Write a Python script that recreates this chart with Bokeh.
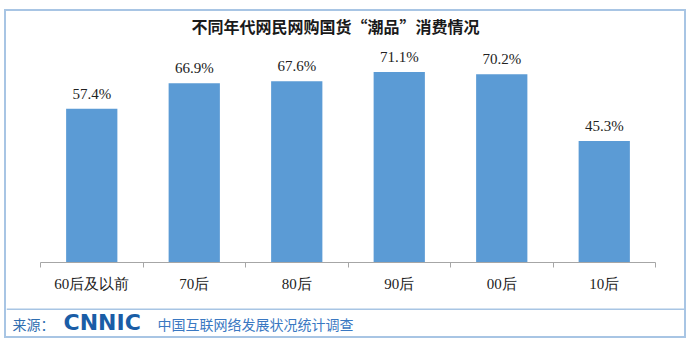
from bokeh.plotting import figure
from bokeh.layouts import column
from bokeh.models import (ColumnDataSource, Range1d, LinearAxis, CategoricalAxis,
                          FixedTicker, Label, LabelSet, Span)
from bokeh.core.properties import value
from bokeh.embed import file_html
from bokeh.resources import INLINE

categories = ["60后及以前", "70后", "80后", "90后", "00后", "10后"]
values = [57.4, 66.9, 67.6, 71.1, 70.2, 45.3]
value_labels = ["57.4%", "66.9%", "67.6%", "71.1%", "70.2%", "45.3%"]
title_text = "不同年代网民网购国货“潮品”消费情况"
source_label = "来源："
logo_text = "CNNIC"
source_name = "中国互联网络发展状况统计调查"

BORDER = "#a8c5e4"
INNER_W = 678

# ---------------- main chart ----------------
p = figure(width=INNER_W, height=297, x_range=categories, y_range=Range1d(0, 93.66),
           output_backend="svg", toolbar_location=None,
           x_axis_location=None, y_axis_location=None,
           min_border_left=34, min_border_right=29, min_border_top=0, min_border_bottom=46)
p.frame_align = False
p.grid.visible = False
p.outline_line_color = None
p.background_fill_color = None
p.border_fill_color = "white"

src = ColumnDataSource(dict(cat=categories, val=values, lab=value_labels))
p.vbar(x="cat", top="val", width=0.5, source=src, fill_color="#5b9bd5", line_color=None)
p.add_layout(LabelSet(x="cat", y="val", text="lab", source=src, y_offset=10,
                      text_align="center", text_baseline="alphabetic",
                      text_font=value("Liberation Serif"), text_font_size="15px",
                      text_color="#222222"))

# axis line with ticks at the category boundaries
tick_axis = LinearAxis(ticker=FixedTicker(ticks=list(range(len(categories) + 1))),
                       axis_line_color="#a6a6a6", major_tick_line_color="#a6a6a6",
                       major_tick_in=0, major_tick_out=5, minor_tick_line_color=None,
                       major_label_text_color=None, major_label_standoff=0)
p.add_layout(tick_axis, "below")
cat_axis = CategoricalAxis(axis_line_color=None, major_tick_line_color=None,
                           major_label_standoff=2,
                           major_label_text_font="Liberation Serif",
                           major_label_text_font_size="15px", major_label_text_color="#222222")
p.add_layout(cat_axis, "below")

p.add_layout(Label(x=295, y=237, x_units="screen", y_units="screen",
                   text=title_text, text_align="center", text_baseline="middle",
                   text_font="Noto Sans CJK SC", text_font_style="bold",
                   text_font_size="16px", text_color="#1a1a1a"))

# ---------------- footer ----------------
f = figure(width=INNER_W, height=28, x_range=Range1d(0, INNER_W), y_range=Range1d(0, 28),
           output_backend="svg", toolbar_location=None,
           x_axis_location=None, y_axis_location=None,
           min_border_left=0, min_border_right=0, min_border_top=0, min_border_bottom=0)
f.frame_align = False
f.grid.visible = False
f.outline_line_color = None
f.background_fill_color = None
f.border_fill_color = "white"
f.add_layout(Span(location=28, dimension="width", line_color=BORDER, line_width=3))
f.add_layout(Label(x=6, y=13, text=source_label, text_baseline="middle",
                   text_font="Noto Sans CJK SC", text_font_size="14px", text_color="#2e6db0"))
f.add_layout(Label(x=57, y=14, text=logo_text, text_baseline="middle",
                   text_font="DejaVu Sans", text_font_style="bold",
                   text_font_size="22px", text_color="#1a5da6"))
f.add_layout(Label(x=151, y=13, text=source_name, text_baseline="middle",
                   text_font="Noto Sans CJK SC", text_font_size="14px", text_color="#3a78c2"))

layout = column(p, f, margin=(9, 7, 4, 4), spacing=0,
                styles={"border": "2px solid " + BORDER})

open("out.html", "w").write(file_html(layout, INLINE))
